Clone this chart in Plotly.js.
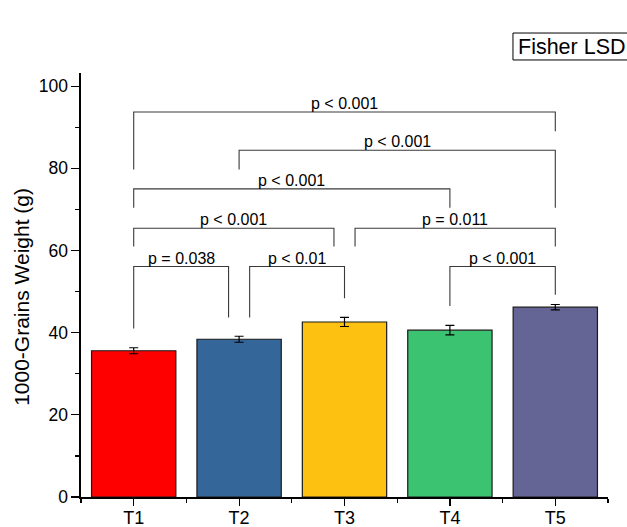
<!DOCTYPE html>
<html>
<head>
<meta charset="utf-8">
<script src="https://cdn.plot.ly/plotly-3.0.1.min.js"></script>
<style>html,body{margin:0;padding:0;background:#fff;}#chart{width:627px;height:527px;}</style>
</head>
<body>
<div id="chart"></div>
<script>
// ---- data ----
const categories = ["T1", "T2", "T3", "T4", "T5"];
const means = [35.6, 38.4, 42.6, 40.6, 46.2];
const errors = [0.73, 0.73, 1.1, 1.15, 0.65];
const barColors = ["#FF0000", "#346699", "#FDC211", "#3CC371", "#646495"];

// brackets: left x, right x (category index), top level, left leg bottom, right leg bottom, label
const brLeft   = [0,    1,    0,    0,    2.1,  0,    1.1,  3];
const brRight  = [4,    4,    3,    1.9,  4,    0.9,  2,    4];
const brTop    = [93.7, 84.4, 75.0, 65.4, 65.4, 56.1, 56.1, 56.1];
const brLeftBot  = [79.7, 79.7, 70.4, 61.0, 61.0, 41.0, 43.7, 46.5];
const brRightBot = [89.0, 70.4, 70.4, 61.0, 61.0, 43.7, 48.4, 49.2];
const brLabels = ["p < 0.001", "p < 0.001", "p < 0.001", "p < 0.001", "p = 0.011", "p = 0.038", "p < 0.01", "p < 0.001"];

const yTicks = [0, 20, 40, 60, 80, 100];

// ---- traces ----
const xIdx = categories.map((c, i) => i);

const bars = {
  type: "bar",
  x: xIdx,
  y: means,
  width: 0.8,
  marker: { color: barColors, line: { color: "#1a1a1a", width: 1.2 } },
  error_y: { type: "data", array: errors, visible: true, color: "#000", thickness: 1.2, width: 4.5 },
  hoverinfo: "none"
};

const bx = [], by = [];
for (let i = 0; i < brLeft.length; i++) {
  bx.push(brLeft[i], brLeft[i], brRight[i], brRight[i], null);
  by.push(brLeftBot[i], brTop[i], brTop[i], brRightBot[i], null);
}
const brackets = {
  type: "scatter", mode: "lines", x: bx, y: by,
  line: { color: "#3a3a3a", width: 1.1 }, hoverinfo: "none", connectgaps: false
};

const annotations = brLabels.map((t, i) => ({
  x: (brLeft[i] + brRight[i]) / 2, y: brTop[i], xref: "x", yref: "y",
  text: t, showarrow: false, yanchor: "bottom", xanchor: "center", yshift: -2,
  font: { family: "Arial, 'Liberation Sans', sans-serif", size: 16, color: "#000" }
}));

annotations.push({
  x: -0.112, y: 0.472, xref: "paper", yref: "paper",
  text: "1000-Grains Weight (g)", textangle: -90, showarrow: false,
  xanchor: "center", yanchor: "middle",
  font: { family: "Arial, 'Liberation Sans', sans-serif", size: 21, color: "#000" }
});

annotations.push({
  x: 0.826, y: 1.0625, xref: "paper", yref: "paper",
  text: "Fisher LSD", showarrow: false, xanchor: "left", yanchor: "middle",
  font: { family: "Arial, 'Liberation Sans', sans-serif", size: 21.5, color: "#000" }
});

const layout = {
  width: 627, height: 527,
  margin: { l: 81, r: 19, t: 73, b: 30 },
  paper_bgcolor: "#fff", plot_bgcolor: "#fff",
  showlegend: false,
  font: { family: "Arial, 'Liberation Sans', sans-serif", color: "#000" },
  xaxis: {
    range: [-0.5, 4.5], tickvals: xIdx, ticktext: categories,
    showgrid: false, zeroline: false, showline: true, linecolor: "#000", linewidth: 1.6,
    ticks: "outside", ticklen: 7, tickwidth: 1.2, tickcolor: "#000",
    ticklabelstandoff: -3,
    tickfont: { size: 18 },
    minor: { tickvals: [-0.5, 0.5, 1.5, 2.5, 3.5, 4.5], ticks: "outside", ticklen: 4, tickwidth: 1.2, tickcolor: "#000", showgrid: false }
  },
  yaxis: {
    range: [0, 103.2], tickvals: yTicks,
    showgrid: false, zeroline: false, showline: true, linecolor: "#000", linewidth: 1.6,
    ticks: "outside", ticklen: 8, tickwidth: 1.2, tickcolor: "#000",
    tickfont: { size: 17.5 },
    minor: { tickvals: [10, 30, 50, 70, 90], ticks: "outside", ticklen: 4, tickwidth: 1.2, tickcolor: "#000", showgrid: false }
  },
  shapes: [{
    type: "rect", xref: "paper", yref: "paper",
    x0: 0.8197, x1: 1.2, y0: 1.0307, y1: 1.0943,
    line: { color: "#000", width: 1 }, fillcolor: "rgba(0,0,0,0)"
  }],
  annotations: annotations
};

Plotly.newPlot("chart", [bars, brackets], layout, { displayModeBar: false, staticPlot: true });
</script>
</body>
</html>
